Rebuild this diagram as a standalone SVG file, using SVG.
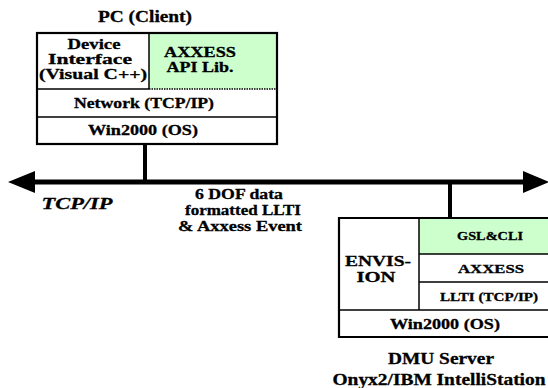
<svg xmlns="http://www.w3.org/2000/svg" width="548" height="388" viewBox="0 0 548 388">
  <style>
    text { font-family: "Liberation Serif", "Times New Roman", serif; font-weight: bold; fill: #000; stroke: #000; stroke-width: 0.3; text-anchor: middle; }
    .big { font-size: 16.5px; }
    .mid { font-size: 15px; }
    .sm { font-size: 12px; }
    .cell { fill: #fff; stroke: #000; stroke-width: 1.5; }
    .lib { fill: #ccffcc; stroke: none; }
    .dot { stroke: #000; stroke-width: 1.5; stroke-dasharray: 1.5 1; }
    .frame { fill: none; stroke: #000; stroke-width: 2.2; }
    .bus { stroke: #000; stroke-width: 5; fill: none; }
  </style>

  <!-- PC client stack -->
  <g id="pc-client">
    <text class="big" x="145" y="22" textLength="94" lengthAdjust="spacingAndGlyphs">PC (Client)</text>
    <rect class="cell" x="37" y="33" width="240" height="111"/>
    <rect class="lib" x="149" y="33" width="128" height="56"/>
    <line x1="149" y1="33" x2="149" y2="89" stroke="#000" stroke-width="1.5"/>
    <line x1="37" y1="89" x2="149" y2="89" stroke="#000" stroke-width="1.5"/>
    <line class="dot" x1="149" y1="89" x2="277" y2="89"/>
    <line x1="37" y1="117" x2="277" y2="117" stroke="#000" stroke-width="1.5"/>
    <rect class="frame" x="37" y="33" width="240" height="111"/>
    <text class="mid" x="94" y="49" textLength="53" lengthAdjust="spacingAndGlyphs">Device</text>
    <text class="mid" x="90" y="64" textLength="84" lengthAdjust="spacingAndGlyphs">Interface</text>
    <text class="mid" x="93" y="79" textLength="108" lengthAdjust="spacingAndGlyphs">(Visual C++)</text>
    <text class="mid" x="200" y="57" textLength="72" lengthAdjust="spacingAndGlyphs">AXXESS</text>
    <text class="mid" x="200" y="72" textLength="67" lengthAdjust="spacingAndGlyphs">API Lib.</text>
    <text class="mid" x="144" y="108" textLength="140" lengthAdjust="spacingAndGlyphs">Network (TCP/IP)</text>
    <text class="mid" x="143" y="135" textLength="110" lengthAdjust="spacingAndGlyphs">Win2000 (OS)</text>
  </g>

  <!-- DMU server stack -->
  <g id="dmu-server">
    <rect class="cell" x="339" y="218" width="212" height="119"/>
    <rect class="lib" x="419" y="218" width="132" height="36"/>
    <line class="dot" x1="419" y1="218" x2="551" y2="218"/>
    <line x1="419" y1="218" x2="419" y2="310" stroke="#000" stroke-width="1.5"/>
    <line x1="419" y1="254" x2="551" y2="254" stroke="#000" stroke-width="1.5"/>
    <line x1="419" y1="282" x2="551" y2="282" stroke="#000" stroke-width="1.5"/>
    <line x1="339" y1="310" x2="551" y2="310" stroke="#000" stroke-width="1.5"/>
    <path class="frame" d="M551,218 H339 V337 H551"/>
    <line x1="339" y1="218" x2="419" y2="218" stroke="#000" stroke-width="2.2"/>
    <text class="mid" x="378" y="266" textLength="66" lengthAdjust="spacingAndGlyphs">ENVIS-</text>
    <text class="mid" x="376" y="282" textLength="39" lengthAdjust="spacingAndGlyphs">ION</text>
    <text class="sm" x="490" y="240" textLength="66" lengthAdjust="spacingAndGlyphs">GSL&amp;CLI</text>
    <text class="sm" x="491" y="273" textLength="66" lengthAdjust="spacingAndGlyphs">AXXESS</text>
    <text class="sm" x="489" y="301" textLength="98" lengthAdjust="spacingAndGlyphs">LLTI (TCP/IP)</text>
    <text class="mid" x="445" y="329" textLength="110" lengthAdjust="spacingAndGlyphs">Win2000 (OS)</text>
    <text class="big" x="441" y="364" textLength="106" lengthAdjust="spacingAndGlyphs">DMU Server</text>
    <text class="big" x="439" y="385" textLength="213" lengthAdjust="spacingAndGlyphs">Onyx2/IBM IntelliStation</text>
  </g>

  <!-- TCP/IP bus and drops -->
  <g id="connectors">
    <line class="bus" x1="32" y1="182" x2="526" y2="182"/>
    <polygon points="8,182 35,171 35,193" fill="#000"/>
    <polygon points="549,182 523,171 523,193" fill="#000"/>
    <line x1="145" y1="144" x2="145" y2="182" stroke="#000" stroke-width="4"/>
    <line x1="450" y1="182" x2="450" y2="218" stroke="#000" stroke-width="4"/>
  </g>

  <g id="bus-labels">
    <text x="77" y="209" style="font-size:17.5px; font-style:italic;" textLength="71" lengthAdjust="spacingAndGlyphs">TCP/IP</text>
    <text class="mid" x="239" y="199" textLength="88" lengthAdjust="spacingAndGlyphs">6 DOF data</text>
    <text class="mid" x="243" y="215" textLength="116" lengthAdjust="spacingAndGlyphs">formatted LLTI</text>
    <text class="mid" x="240" y="231" textLength="124" lengthAdjust="spacingAndGlyphs">&amp; Axxess Event</text>
  </g>
</svg>
